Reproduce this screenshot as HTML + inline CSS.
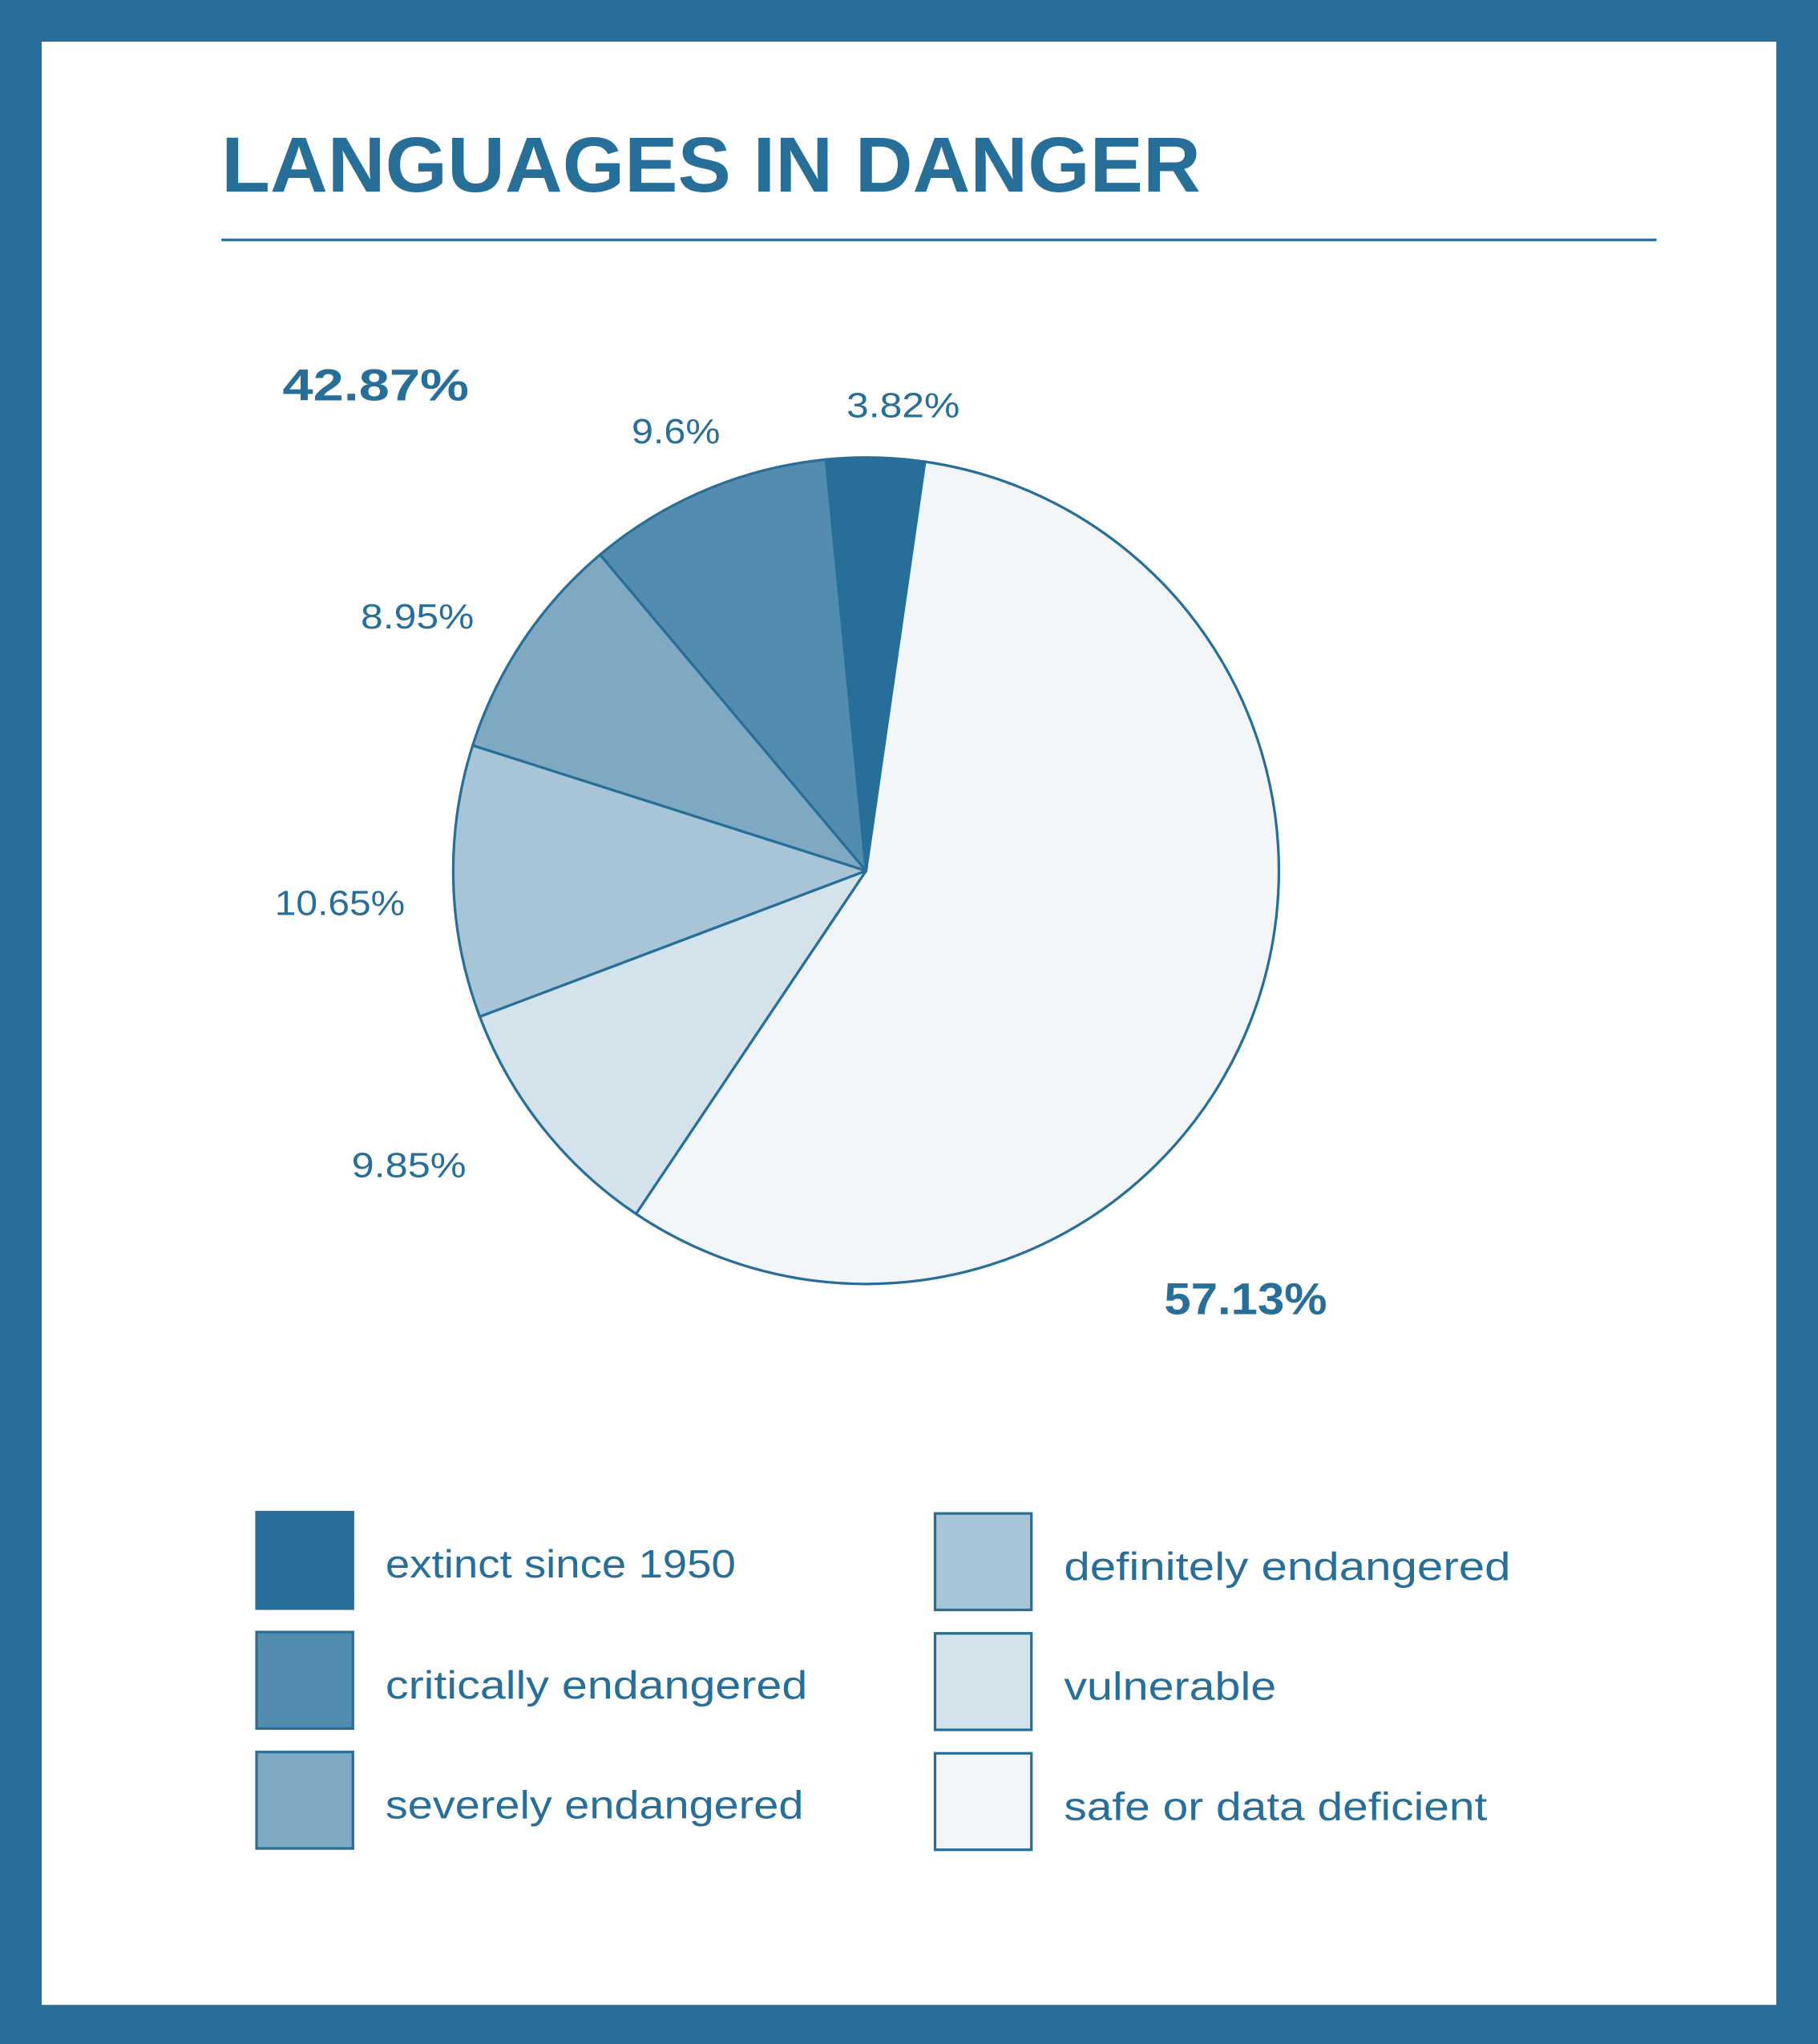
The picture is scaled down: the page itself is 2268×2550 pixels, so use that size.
<!DOCTYPE html>
<html><head><meta charset="utf-8"><style>
html,body{margin:0;padding:0;background:#fff;}
svg{display:block;}
text{font-family:"Liberation Sans",sans-serif;fill:#276f98;}
</style></head><body>
<svg width="2268" height="2550" viewBox="0 0 1396 1568" preserveAspectRatio="none" xmlns="http://www.w3.org/2000/svg">
<rect x="0" y="0" width="1396" height="1568" fill="#276f98"/>
<rect x="32" y="32" width="1332" height="1506" fill="#ffffff"/>
<text x="170" y="147" font-size="60" font-weight="bold" textLength="752" lengthAdjust="spacingAndGlyphs">LANGUAGES IN DANGER</text>
<line x1="170" y1="184" x2="1272" y2="184" stroke="#276f98" stroke-width="2"/>
<g stroke="#276f98" stroke-width="2" stroke-linejoin="round">
<path d="M665 668 L710.2 354.2 A317 317 0 1 1 488.4 931.2 Z" fill="#f2f6f9"/>
<path d="M665 668 L488.4 931.2 A317 317 0 0 1 368.4 779.9 Z" fill="#d4e2eb"/>
<path d="M665 668 L368.4 779.9 A317 317 0 0 1 363.0 571.8 Z" fill="#a8c5d7"/>
<path d="M665 668 L363.0 571.8 A317 317 0 0 1 460.8 425.5 Z" fill="#7fa9c3"/>
<path d="M665 668 L460.8 425.5 A317 317 0 0 1 634.3 352.5 Z" fill="#528cae"/>
<path d="M665 668 L634.3 352.5 A317 317 0 0 1 710.2 354.2 Z" fill="#276f98"/>
</g>
<text x="217" y="307" font-size="34" font-weight="bold" textLength="143" lengthAdjust="spacingAndGlyphs">42.87%</text>
<text x="894" y="1008" font-size="34" font-weight="bold" textLength="125" lengthAdjust="spacingAndGlyphs">57.13%</text>
<g font-size="27">
<text x="650" y="320" textLength="87" lengthAdjust="spacingAndGlyphs">3.82%</text>
<text x="485" y="340" textLength="68" lengthAdjust="spacingAndGlyphs">9.6%</text>
<text x="277" y="482" textLength="87" lengthAdjust="spacingAndGlyphs">8.95%</text>
<text x="211" y="702" textLength="100" lengthAdjust="spacingAndGlyphs">10.65%</text>
<text x="270" y="903" textLength="88" lengthAdjust="spacingAndGlyphs">9.85%</text>
</g>
<g stroke="#276f98" stroke-width="2">
<rect x="197" y="1160" width="74" height="74" fill="#276f98"/>
<rect x="197" y="1252" width="74" height="74" fill="#528cae"/>
<rect x="197" y="1344" width="74" height="74" fill="#7fa9c3"/>
<rect x="718" y="1161" width="74" height="74" fill="#a8c5d7"/>
<rect x="718" y="1253" width="74" height="74" fill="#d4e2eb"/>
<rect x="718" y="1345" width="74" height="74" fill="#f2f6f9"/>
</g>
<g font-size="30">
<text x="296" y="1210" textLength="269" lengthAdjust="spacingAndGlyphs">extinct since 1950</text>
<text x="296" y="1303" textLength="324" lengthAdjust="spacingAndGlyphs">critically endangered</text>
<text x="296" y="1395" textLength="321" lengthAdjust="spacingAndGlyphs">severely endangered</text>
<text x="817" y="1212" textLength="343" lengthAdjust="spacingAndGlyphs">definitely endangered</text>
<text x="817" y="1304" textLength="163" lengthAdjust="spacingAndGlyphs">vulnerable</text>
<text x="817" y="1396" textLength="325" lengthAdjust="spacingAndGlyphs">safe or data deficient</text>
</g>
</svg>
</body></html>
